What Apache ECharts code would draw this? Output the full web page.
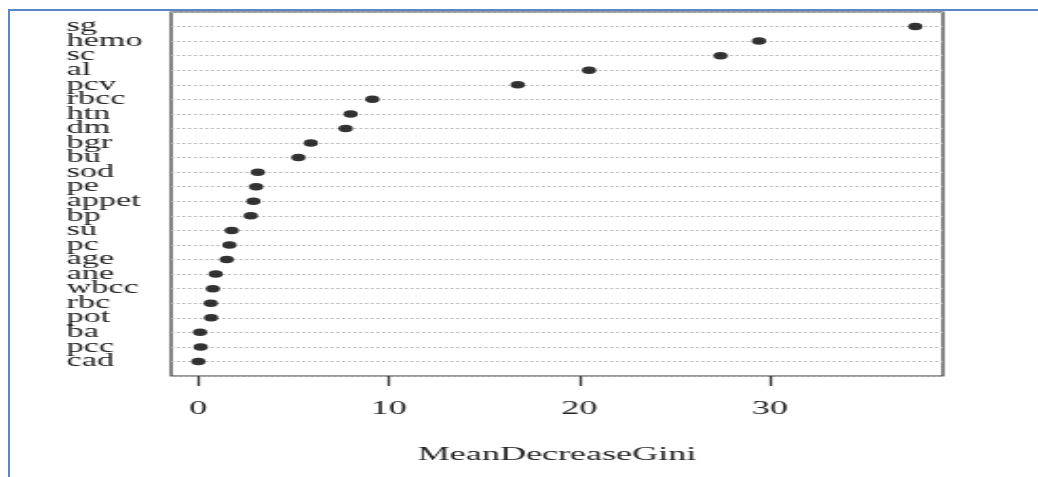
<!DOCTYPE html>
<html>
<head>
<meta charset="utf-8">
<script src="https://cdn.jsdelivr.net/npm/echarts@6/dist/echarts.min.js"></script>
<style>
  html, body { margin: 0; padding: 0; background: #fff; width: 1038px; height: 477px; overflow: hidden; }
  #frame { position: absolute; left: 8px; top: 9px; width: 1040px; height: 480px;
           border-top: 2px solid #5a86c8; border-left: 2px solid #5a86c8; box-sizing: border-box; }
  #chart { position: absolute; left: 0; top: 0; width: 546px; height: 477px;
           transform: scaleX(1.901); transform-origin: 0 0; }
</style>
</head>
<body>
<div id="frame"></div>
<div id="chart"></div>
<script>
// Variables (top to bottom as in the chart)
const variables = ['sg','hemo','sc','al','pcv','rbcc','htn','dm','bgr','bu','sod','pe',
                   'appet','bp','su','pc','age','ane','wbcc','rbc','pot','ba','pcc','cad'];
// MeanDecreaseGini values
const meanDecreaseGini = [37.62, 29.42, 27.4, 20.5, 16.76, 9.13, 7.99, 7.73, 5.9, 5.25, 3.12, 3.03,
                          2.89, 2.75, 1.75, 1.63, 1.49, 0.91, 0.76, 0.65, 0.67, 0.09, 0.12, 0.0];
const xTicks = [0, 10, 20, 30];
const xTitle = 'MeanDecreaseGini';

const chart = echarts.init(document.getElementById('chart'), null, { renderer: 'canvas' });
const serif = '"Liberation Serif", "DejaVu Serif", serif';

chart.setOption({
  animation: false,
  backgroundColor: 'transparent',
  grid: {
    left: 90, right: 50, top: 12, bottom: 101,
    show: true, borderColor: '#333', borderWidth: 1.2, backgroundColor: 'transparent'
  },
  xAxis: {
    type: 'value',
    position: 'bottom',
    min: -1.43, max: 39.07,
    axisLine: { show: false, onZero: false },
    axisTick: { show: true, customValues: xTicks, length: 10, lineStyle: { color: '#333', width: 1.3 } },
    axisLabel: { customValues: xTicks, margin: 24, color: '#222', fontFamily: serif, fontSize: 19 },
    splitLine: { show: false },
    name: xTitle, nameLocation: 'middle', nameGap: 70,
    nameTextStyle: { color: '#222', fontFamily: serif, fontSize: 19 }
  },
  yAxis: {
    type: 'value',
    inverse: true,
    min: 0, max: variables.length + 1, interval: 1,
    axisLine: { show: false, onZero: false },
    axisTick: { show: false },
    axisLabel: {
      align: 'left', margin: 55, color: '#222', fontFamily: serif, fontSize: 18,
      formatter: v => variables[v - 1] || ''
    },
    splitLine: { show: true, lineStyle: { color: '#b5b5b5', width: 1, type: [1.5, 1.5] } }
  },
  series: [{
    type: 'scatter',
    symbol: 'circle',
    symbolSize: 7.5,
    itemStyle: { color: '#000' },
    data: meanDecreaseGini.map((v, i) => [v, i + 1])
  }]
});
</script>
</body>
</html>
